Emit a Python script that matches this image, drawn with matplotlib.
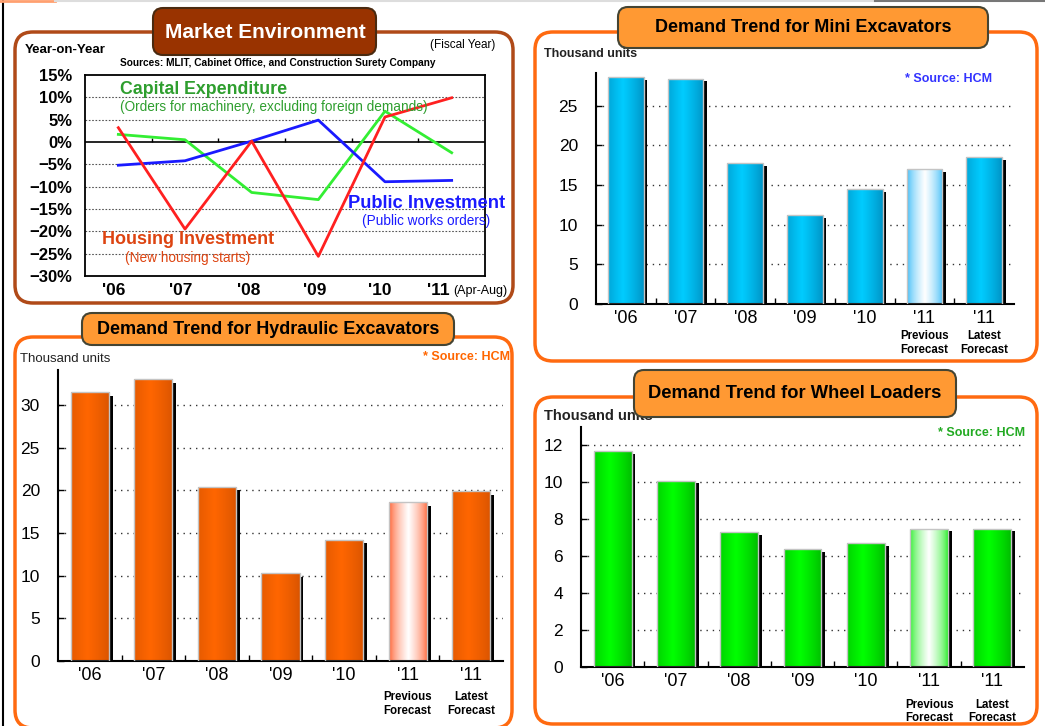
import numpy as np
import matplotlib
matplotlib.use('Agg')
import matplotlib.pyplot as plt
import matplotlib.transforms as mtransforms
from matplotlib.patches import FancyBboxPatch
from matplotlib.lines import Line2D
from matplotlib.colors import to_rgb

W, H = 1045, 726

# market environment (year-on-year %, fiscal year)
env_years = ["'06", "'07", "'08", "'09", "'10", "'11"]
housing = [3.2, -19.5, 0.2, -25.6, 5.6, 9.9]
capex = [1.7, 0.5, -11.3, -12.9, 6.9, -2.4]
public = [-5.2, -4.2, 0.2, 4.9, -8.9, -8.6]

# demand trends (thousand units)
bar_labels = ["'06", "'07", "'08", "'09", "'10", "'11", "'11"]
bar_sub = ["", "", "", "", "", "Previous\nForecast", "Latest\nForecast"]
mini_exc = [28.6, 28.4, 17.7, 11.2, 14.5, 17.0, 18.5]
hyd_exc = [31.5, 33.0, 20.4, 10.3, 14.2, 18.6, 19.9]
wheel_ld = [11.7, 10.1, 7.3, 6.4, 6.7, 7.5, 7.5]

plt.rcParams['font.family'] = ['Liberation Sans', 'DejaVu Sans']
fig = plt.figure(figsize=(W / 100, H / 100), dpi=100)
px = mtransforms.Affine2D().scale(1 / 100) + fig.dpi_scale_trans


def rect(x0, y0, x1, y1):
    return [x0 / W, 1 - y1 / H, (x1 - x0) / W, (y1 - y0) / H]


def rbox(x0, y0, x1, y1, fc, ec, lw, r, z):
    p = FancyBboxPatch((x0, H - y1), x1 - x0, y1 - y0,
                       boxstyle=f"round,pad=0,rounding_size={r}",
                       transform=px, fc=fc, ec=ec, lw=lw, zorder=z)
    fig.add_artist(p)


def txt(x, y, s, **kw):
    fig.text(x, H - y, s, transform=px, **kw)


# page edges
fig.add_artist(Line2D([3, 3], [0, H], transform=px, color='black', lw=1.5))
fig.add_artist(Line2D([0, 55], [H - 1, H - 1], transform=px, color='#ffa070', lw=2))
fig.add_artist(Line2D([55, 875], [H - 1, H - 1], transform=px, color='#dddddd', lw=1.5))
fig.add_artist(Line2D([875, W], [H - 1, H - 1], transform=px, color='#777777', lw=1.5))

# panel frames
rbox(15, 32, 513, 303, 'white', '#b04a18', 2.5, 18, 0)
rbox(535, 32, 1037, 361, 'white', '#ff6a10', 2.5, 18, 0)
rbox(15, 337, 512, 728, 'white', '#ff6a10', 2.5, 18, 0)
rbox(535, 397, 1037, 724, 'white', '#ff6a10', 2.5, 18, 0)

# ---------------- Market Environment ----------------
ax = fig.add_axes(rect(85, 75, 485, 276))
ax.patch.set_alpha(0)
xs = np.arange(len(env_years))
ax.plot(xs, capex, color='#33ee33', lw=2, zorder=3)
ax.plot(xs, public, color='#1a1aff', lw=2, zorder=4)
ax.plot(xs, housing, color='#ff2020', lw=2, zorder=5)
ax.set_xlim(-0.5, len(env_years) - 0.5)
ax.set_ylim(-30, 15)
ax.set_yticks(range(-30, 16, 5))
ax.set_yticklabels([f"{v}%".replace('-', '\u2212') for v in range(-30, 16, 5)],
                   fontsize=12, fontweight='bold')
ax.set_xticks(xs)
ax.set_xticklabels(env_years, fontsize=12.5, fontweight='bold')
ax.tick_params(axis='y', length=0, pad=9)
ax.tick_params(axis='x', length=0, pad=5)
# labels sit a little left of the data points in the original
for lab, dx in zip(ax.get_xticklabels(), [-5, -4, -3, -4, -5, -13]):
    lab.set_transform(lab.get_transform() +
                      mtransforms.ScaledTranslation(dx / 100, 0, fig.dpi_scale_trans))
for v in range(-25, 15, 5):
    if v != 0:
        ax.axhline(v, color='#555555', lw=0.8, ls=(0, (1.5, 1.5)), zorder=1)
ax.axhline(0, color='black', lw=1.2, zorder=2)
ax.vlines(xs[:-1] + 0.5, 0, 0.8, color='black', lw=1, zorder=2)
for s in ax.spines.values():
    s.set_linewidth(1.3)

rbox(153, 8, 376, 55, '#993300', '#4a2a10', 1.5, 10, 5)
txt(265, 32, 'Market Environment', color='white', fontsize=15, fontweight='bold',
    ha='center', va='center', zorder=6)
txt(25, 50, 'Year-on-Year', fontsize=9.5, fontweight='bold', va='center')
txt(495, 45, '(Fiscal Year)', fontsize=8.5, ha='right', va='center')
txt(120, 63, 'Sources: MLIT, Cabinet Office, and Construction Surety Company',
    fontsize=7.3, fontweight='bold', va='center')
txt(120, 89, 'Capital Expenditure', color='#2e9e2e', fontsize=12.8, fontweight='bold',
    va='center')
txt(120, 107, '(Orders for machinery, excluding foreign demands)', color='#2e9e2e',
    fontsize=9.8, va='center')
txt(102, 240, 'Housing Investment', color='#dd4411', fontsize=13, fontweight='bold',
    va='center')
txt(125, 258, '(New housing starts)', color='#dd4411', fontsize=9.8, va='center')
txt(348, 203, 'Public Investment', color='#1a1aff', fontsize=13.2, fontweight='bold',
    va='center')
txt(362, 221, '(Public works orders)', color='#1a1aff', fontsize=9.8, va='center')
txt(453, 291, '(Apr-Aug)', fontsize=9, va='center')


# ---------------- bar panels ----------------
def bar_panel(box, vals, ymax, step, dark, light, prev_edge, label_pad, sub_off):
    ax = fig.add_axes(rect(*box))
    ax.patch.set_alpha(0)
    x = np.arange(len(vals))
    bars = ax.bar(x, vals, width=0.6, color='none', edgecolor='#c4c4c4', lw=1, zorder=4)
    ax.bar(x + 0.335, np.array(vals) - ymax * 0.012, width=0.05, color='black', zorder=3)
    t = np.linspace(0, 1, 80)
    w = np.clip(1 - np.abs(t - 0.42) / 0.58, 0, 1) ** 0.8
    for i, b in enumerate(bars):
        if i == 5:
            d, l = np.array(to_rgb(prev_edge)), np.ones(3)
            ww = np.clip(1 - np.abs(t - 0.5) / 0.5, 0, 1) ** 0.6
        else:
            d, l = np.array(to_rgb(dark)), np.array(to_rgb(light))
            ww = w
        img = d + (l - d) * ww[:, None]
        im = ax.imshow(img[None, :, :], extent=[b.get_x(), b.get_x() + b.get_width(),
                                               0, b.get_height()],
                       aspect='auto', interpolation='bilinear', zorder=2)
        im.set_clip_path(b)
    ax.set_xlim(-0.5, len(vals) - 0.5)
    ax.set_ylim(0, ymax)
    ticks = np.arange(0, ymax, step)
    ax.set_yticks(ticks)
    ax.set_yticklabels([f"{v:g}" for v in ticks], fontsize=12.5)
    ax.set_xticks(x)
    ax.set_xticklabels(bar_labels, fontsize=13)
    ax.set_xticks(x[:-1] + 0.5, minor=True)
    ax.tick_params(axis='y', direction='in', length=4, width=1, pad=label_pad)
    ax.tick_params(axis='x', which='major', length=0, pad=4)
    ax.tick_params(axis='x', which='minor', direction='in', length=4, width=1)
    ax.set_axisbelow(True)
    ax.yaxis.grid(True, color='#333333', lw=1, ls=(0, (1, 3.5)), zorder=0)
    for s in ('top', 'right'):
        ax.spines[s].set_visible(False)
    ax.spines['left'].set_linewidth(1.5)
    ax.spines['bottom'].set_linewidth(1.5)
    for i, s in enumerate(bar_sub):
        if s:
            ax.annotate(s, (i, 0), xytext=(0, -sub_off), textcoords='offset points',
                        ha='center', va='center', fontsize=8.3, fontweight='bold',
                        linespacing=1.15, annotation_clip=False)
    return ax


bar_panel((596, 73, 1014, 304), mini_exc, 29.1, 5, '#0092c4', '#00ccff', '#30b8f8', 13, 28)
rbox(618, 7, 988, 48, '#ff9933', '#444433', 1.5, 10, 5)
txt(803, 28, 'Demand Trend for Mini Excavators', fontsize=13, fontweight='bold',
    ha='center', va='center', zorder=6)
txt(544, 54, 'Thousand units', fontsize=9, fontweight='bold', color='#222222', va='center')
txt(905, 79, '* Source: HCM', fontsize=9, fontweight='bold', color='#3333ff', va='center')

bar_panel((58, 370, 503, 661), hyd_exc, 34.1, 5, '#d85400', '#ff6600', '#ff5522', 13, 31)
rbox(82, 313, 454, 345, '#ff9933', '#444433', 1.5, 10, 5)
txt(268, 330, 'Demand Trend for Hydraulic Excavators', fontsize=13, fontweight='bold',
    ha='center', va='center', zorder=6)
txt(20, 359, 'Thousand units', fontsize=9.5, color='#222222', va='center')
txt(510, 357, '* Source: HCM', fontsize=9, fontweight='bold', color='#ff6600',
    ha='right', va='center')

bar_panel((581, 427, 1024, 667), wheel_ld, 13.0, 2, '#00bb00', '#00ff00', '#22ee22', 13, 32)
txt(544, 416, 'Thousand units', fontsize=10.5, fontweight='bold', color='#222222',
    va='center', zorder=4)
rbox(634, 370, 956, 417, '#ff9933', '#444433', 1.5, 10, 5)
txt(795, 394, 'Demand Trend for Wheel Loaders', fontsize=13.2, fontweight='bold',
    ha='center', va='center', zorder=6)
txt(1025, 433, '* Source: HCM', fontsize=9, fontweight='bold', color='#22aa22',
    ha='right', va='center')

fig.savefig('out.png', dpi=100)
